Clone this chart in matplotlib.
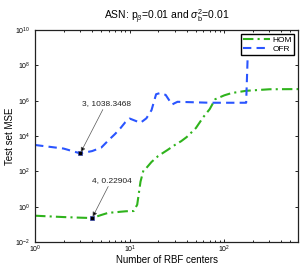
import matplotlib
matplotlib.use("Agg")
import matplotlib.pyplot as plt
from matplotlib.ticker import LogLocator, NullLocator, FixedLocator

plt.rcParams['font.family'] = ['Liberation Sans', 'DejaVu Sans']
plt.rcParams['mathtext.fontset'] = 'custom'
plt.rcParams['mathtext.rm'] = 'Liberation Sans'
plt.rcParams['mathtext.it'] = 'Liberation Sans:italic'
plt.rcParams['mathtext.bf'] = 'Liberation Sans:bold'

# Data
hom_n = [1, 2, 3, 4, 5, 6, 7, 8, 9, 10, 11, 12, 13, 14, 15, 17, 20, 25, 30, 35, 40, 50,
         60, 70, 80, 100, 120, 170, 300, 600]
hom_mse = [0.31, 0.26, 0.24, 0.22904, 0.34, 0.46, 0.48, 0.52, 0.55, 0.57, 0.57, 1.3, 26,
           120, 155, 340, 740, 1600, 3100, 5100, 8700, 28000, 118000, 330000, 1.2e6,
           2.0e6, 2.7e6, 3.6e6, 4.4e6, 4.5e6]

ofr_n = [1, 2, 3, 4, 5, 6, 7, 8, 9, 10, 12, 13, 15, 17, 19, 21, 24, 28, 30, 32, 40, 70,
         120, 170, 177, 600]
ofr_mse = [3100, 1950, 1038.3468, 1400, 2200, 5900, 13000, 28000, 61000, 97000, 66000,
           56000, 1.0e5, 2.9e5, 2.3e6, 2.7e6, 2.1e6, 6.0e5, 7.3e5, 8.6e5, 8.3e5, 7.6e5,
           7.6e5, 7.6e5, 5.5e8, 1.6e9]

green = '#2fb31c'
blue = '#2a55ff'

fig = plt.figure(figsize=(3.05, 2.72), dpi=100)
ax = fig.add_axes([0.115, 0.110, 0.862, 0.780])

ax.plot(hom_n, hom_mse, color=green, lw=1.5, ls=(0, (5, 2, 1, 2)), label='HOM')
ax.plot(ofr_n, ofr_mse, color=blue, lw=1.5, ls=(0, (4, 2.5)), label='OFR')

ax.set_xscale('log')
ax.set_yscale('log')
ax.set_xlim(1, 600)
ax.set_ylim(1e-2, 1e10)

ax.yaxis.set_major_locator(FixedLocator([1e-2, 1, 1e2, 1e4, 1e6, 1e8, 1e10]))
ax.yaxis.set_minor_locator(NullLocator())
ax.xaxis.set_major_locator(FixedLocator([1, 10, 100]))
ax.xaxis.set_minor_locator(LogLocator(base=10, subs=range(2, 10), numticks=20))

ax.tick_params(which='both', direction='in', top=True, right=True, labelsize=5)
ax.tick_params(axis='x', pad=1.5)
ax.tick_params(axis='y', pad=3.2)
ax.tick_params(which='major', length=2.5, width=0.6)
ax.tick_params(which='minor', length=1.5, width=0.6)
for s in ax.spines.values():
    s.set_linewidth(0.9)
    s.set_color('#222222')

ax.set_xlabel('Number of RBF centers', fontsize=7, labelpad=0)
ax.set_ylabel('Test set MSE', fontsize=7, labelpad=0.5)
ax.set_title(r'ASN: p$_{\beta}$=0.01 and $\sigma_{\mathrm{b}}^{2}$=0.01', fontsize=7.5,
             pad=7)

# data tips
ax.plot([ofr_n[2]], [ofr_mse[2]], marker='s', ms=3, mfc='black', mec='#3344aa',
        mew=0.5, ls='none')
ax.plot([hom_n[3]], [hom_mse[3]], marker='s', ms=3, mfc='black', mec='#3344aa',
        mew=0.5, ls='none')
ax.annotate('3, 1038.3468', xy=(ofr_n[2], ofr_mse[2]), xytext=(3.1, 4.5e5),
            fontsize=6, color='#222222', ha='left', va='bottom',
            arrowprops=dict(arrowstyle='-|>', color='#555555', lw=0.5,
                            mutation_scale=7, shrinkA=0, shrinkB=1,
                            fc='black'))
ax.annotate('4, 0.22904', xy=(hom_n[3], hom_mse[3]), xytext=(3.95, 20),
            fontsize=6, color='#222222', ha='left', va='bottom',
            arrowprops=dict(arrowstyle='-|>', color='#555555', lw=0.5,
                            mutation_scale=7, shrinkA=0, shrinkB=1,
                            fc='black'))

leg = ax.legend(loc='upper right', fontsize=6, frameon=True, fancybox=False,
                handlelength=3.2, borderpad=0.25, labelspacing=0.15,
                handletextpad=0.3, borderaxespad=0.5)
leg.get_frame().set_edgecolor('black')
leg.get_frame().set_linewidth(1.0)
leg.get_frame().set_alpha(1)

fig.savefig('out.png', dpi=100)
